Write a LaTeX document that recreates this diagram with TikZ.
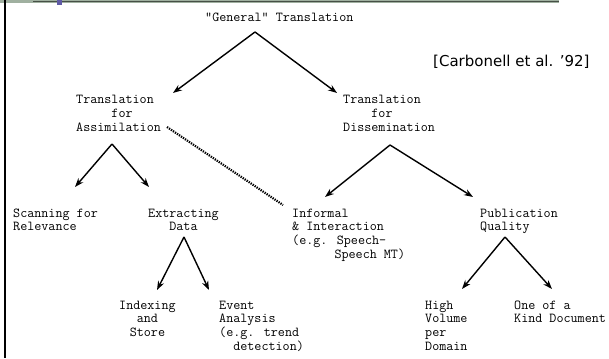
\documentclass[tikz,border=0pt]{standalone}
\usepackage{fontspec}
\newfontfamily\citefont{DejaVu Sans}
\usetikzlibrary{arrows.meta}
\definecolor{bandgreen}{RGB}{160,176,160}
\definecolor{bardark}{RGB}{70,80,70}
\definecolor{tabblue}{RGB}{95,90,165}

\begin{document}
\begin{tikzpicture}[
      x=1pt, y=-1pt,
      font=\ttfamily\fontsize{13.7}{13.8}\selectfont,
      lbl/.style={inner sep=0pt, anchor=base west, align=left},
      mid/.style={lbl, align=center},
      arr/.style={-{Stealth[length=9pt, width=6.5pt]}, line width=1.4pt},
      link/.style={line width=2.2pt, dash pattern=on 1.3pt off 1.1pt}
    ]
    \useasboundingbox (0,0) rectangle (609,358);

    % slide frame
    \fill[bandgreen] (0,0) rectangle (559,2.6);
    \draw[bardark, line width=1.2pt] (33,1.6) -- (559,1.6);
    \fill[tabblue] (57,0) rectangle (62,5.5);
    \draw[black, line width=2pt] (4.5,0) -- (4.5,358);

    % tree labels (base = baseline of the last line)
    \node[lbl] (gen) at (205,22) {"General" Translation};
    \node[lbl, font=\citefont\fontsize{15}{18}\selectfont] (cite) at (433,67)
      {[Carbonell et al. ’92]};
    \node[lbl] (assim) at (76,131.6)
      {Translation\\\hphantom{xxxxx}for\\Assimilation};
    \node[lbl] (dissem) at (343,131.6)
      {Translation\\\hphantom{xxxx}for\\Dissemination};
    \node[lbl] (scan) at (13,230.8) {Scanning for\\Relevance};
    \node[lbl] (extr) at (148,230.8) {Extracting\\\hphantom{xxx}Data};
    \node[lbl] (inf) at (292,258.4)
      {Informal\\\& Interaction\\(e.g. Speech-\\\hphantom{xxxxxx}Speech MT)};
    \node[lbl] (pub) at (480,230.8) {Publication\\Quality};
    \node[mid] (idx) at (119,336.6) {Indexing\\and\\Store};
    \node[lbl] (evt) at (219,350.4)
      {Event\\Analysis\\(e.g. trend\\\hphantom{xx}detection)};
    \node[lbl] (high) at (425,350.4) {High\\Volume\\per\\Domain};
    \node[lbl] (one) at (514,322.8) {One of a\\Kind Document};

    % fork points under the parents, tips over the children
    \coordinate (genF) at (255,32);
    \coordinate (assimT) at (173,93);
    \coordinate (dissemT) at (337,93);
    \coordinate (assimF) at (112,144);
    \coordinate (scanT) at (75,187);
    \coordinate (extrT) at (149,187);
    \coordinate (dissemF) at (390,145);
    \coordinate (infT) at (325,197);
    \coordinate (pubT) at (473,197);
    \coordinate (extrF) at (184,237);
    \coordinate (idxT) at (157,290);
    \coordinate (evtT) at (209,290);
    \coordinate (pubF) at (505,237);
    \coordinate (highT) at (462,289);
    \coordinate (oneT) at (552,289);
    \coordinate (assimE) at (167,127);
    \coordinate (infW) at (283,205);

    \foreach \a/\b in {genF/assimT, genF/dissemT, assimF/scanT, assimF/extrT,
                       dissemF/infT, dissemF/pubT, extrF/idxT, extrF/evtT,
                       pubF/highT, pubF/oneT}
      \draw[arr] (\a) -- (\b);

    % assimilation also reaches the interactive case
    \draw[link] (assimE) -- (infW);
  \end{tikzpicture}
\end{document}
